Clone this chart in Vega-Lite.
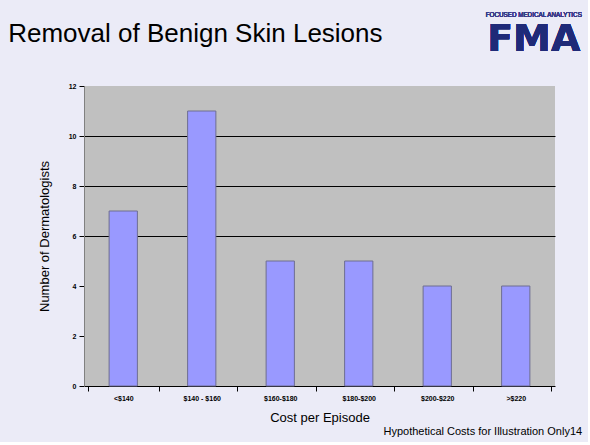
{
  "$schema": "https://vega.github.io/schema/vega-lite/v6.json",
  "background": "#ebebf7",
  "padding": {"left": 8, "top": 11, "right": 5, "bottom": 5},
  "title": {"text": "Hypothetical Costs for Illustration Only14", "orient": "bottom", "anchor": "end", "frame": "bounds", "font": "Liberation Sans", "fontSize": 11, "fontWeight": "normal", "color": "#000000", "offset": 2},
  "vconcat": [
    {
      "width": 471,
      "height": 300,
      "title": {"text": "Removal of Benign Skin Lesions", "anchor": "start", "frame": "bounds", "font": "Liberation Sans", "fontSize": 26, "fontWeight": "normal", "color": "#000000", "offset": -35, "dx": -30},
      "data": {"values": [
        {"cost": "<$140", "count": 7},
        {"cost": "$140 - $160", "count": 11},
        {"cost": "$160-$180", "count": 5},
        {"cost": "$180-$200", "count": 5},
        {"cost": "$200-$220", "count": 4},
        {"cost": ">$220", "count": 4}
      ]},
      "layer": [
        {
          "mark": {"type": "bar", "color": "#9999ff", "stroke": "#6e6e90", "strokeWidth": 1, "width": {"band": 0.4}},
          "encoding": {
            "x": {"field": "cost", "type": "nominal", "sort": null,
              "axis": {"title": "Cost per Episode", "labelAngle": 0, "labelFont": "Liberation Sans", "labelFontSize": 7, "labelFontWeight": "bold", "labelColor": "#000000", "labelPadding": 3,
                "tickBand": "extent", "tickSize": 5, "tickColor": "#000000", "domainColor": "#000000", "grid": false,
                "titleFont": "Liberation Sans", "titleFontSize": 13, "titleFontWeight": "normal", "titleColor": "#000000", "titlePadding": 10}},
            "y": {"field": "count", "type": "quantitative", "scale": {"domain": [0, 12]},
              "axis": {"title": "Number of Dermatologists", "values": [0, 2, 4, 6, 8, 10, 12], "labelFont": "Liberation Sans", "labelFontSize": 7, "labelFontWeight": "bold", "labelColor": "#000000", "labelPadding": 3,
                "tickSize": 5, "tickColor": "#000000", "domainColor": "#808080",
                "grid": true, "gridColor": "#000000", "gridWidth": 1, "gridOpacity": {"condition": {"test": "datum.value >= 6 && datum.value <= 10", "value": 1}, "value": 0},
                "titleFont": "Liberation Sans", "titleFontSize": 13, "titleFontWeight": "normal", "titleColor": "#000000", "titlePadding": 17}}
          }
        },
        {
          "mark": {"type": "text", "text": "FMA", "font": "DejaVu Sans", "fontSize": 38, "fontWeight": "bold", "color": "#1f2a78", "baseline": "alphabetic", "align": "center", "dx": 18},
          "encoding": {"x": {"datum": ">$220"}, "y": {"datum": 13.4}}
        },
        {
          "mark": {"type": "text", "text": "FOCUSED MEDICAL ANALYTICS", "font": "Liberation Sans", "fontSize": 6.3, "color": "#3a3a8a", "baseline": "middle", "align": "center", "dx": 18},
          "encoding": {"x": {"datum": ">$220"}, "y": {"datum": 14.85}}
        }
      ]
    }
  ],
  "config": {"view": {"fill": "#c0c0c0", "stroke": null}}
}
